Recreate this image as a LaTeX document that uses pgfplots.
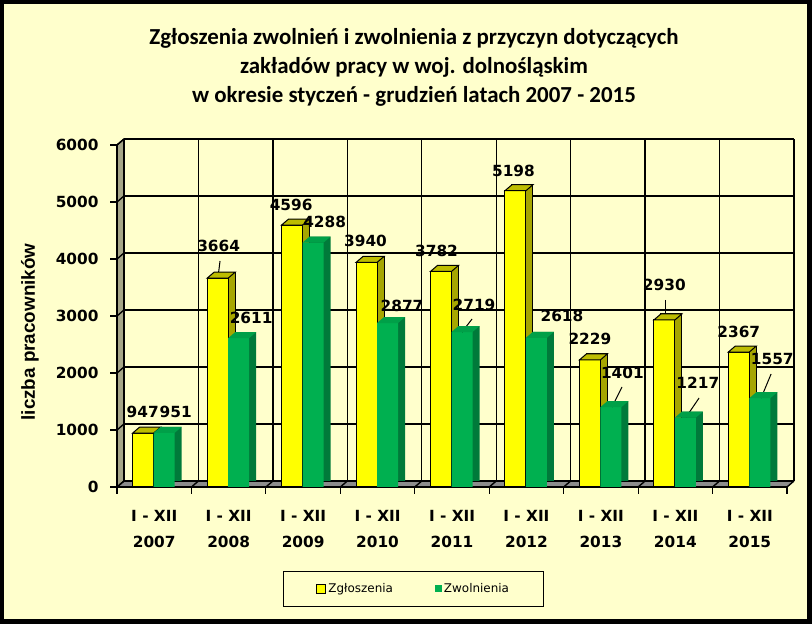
\documentclass[border=0pt]{standalone}
\usepackage{fontspec}
\setmainfont{DejaVu Sans}
\newfontfamily\titlefont{Carlito}
\newfontfamily\arialfont{Liberation Sans}
\usepackage{pgfplots}
\usepackage{pgfplotstable}
\pgfplotsset{compat=1.18}

\definecolor{bgc}{HTML}{FFFFCC}
\definecolor{wallc}{HTML}{A6A688}
\definecolor{floorc}{HTML}{8C8C8C}
\definecolor{zgf}{HTML}{FFFF00}
\definecolor{zgs}{HTML}{A6A600}
\definecolor{zgt}{HTML}{BDBD00}
\definecolor{zwf}{HTML}{00B050}
\definecolor{zws}{HTML}{007A3A}
\definecolor{zwt}{HTML}{00A048}

% gorne sciany slupkow (wzgledem srodka kategorii)
\pgfdeclareplotmark{zgtop}{%
  \pgfpathmoveto{\pgfpoint{-21.5bp}{0bp}}%
  \pgfpathlineto{\pgfpoint{-0.5bp}{0bp}}%
  \pgfpathlineto{\pgfpoint{6.5bp}{6bp}}%
  \pgfpathlineto{\pgfpoint{-14.5bp}{6bp}}%
  \pgfpathclose
  \pgfusepathqfillstroke}
\pgfdeclareplotmark{zwtop}{%
  \pgfpathmoveto{\pgfpoint{-0.5bp}{0bp}}%
  \pgfpathlineto{\pgfpoint{20.5bp}{0bp}}%
  \pgfpathlineto{\pgfpoint{27.5bp}{6bp}}%
  \pgfpathlineto{\pgfpoint{6.5bp}{6bp}}%
  \pgfpathclose
  \pgfusepathqfill}

% x = kategoria, zg = zgloszenia, zw = zwolnienia, dx/dy = polozenie etykiet (bp)
\pgfplotstableread{
x zg   zw   zgdx  zgdy zwdx zwdy
0 947  951  -11.5 21   21.5 21
1 3664 2611 -10   32   22.5 20
2 4596 4288 -12   20   21.5 21
3 3940 2877 -12   21   24.5 17
4 3782 2719 -15.5 21   22   27
5 5198 2618 -13   20   35.5 22
6 2229 1401 -11   21   21.5 34
7 2930 1217 -11   35   22.5 35
8 2367 1557 -11   20   22.5 39
}\dane

\newcommand{\labfont}{\bfseries\fontsize{15.4}{18}\selectfont}

\begin{document}
\begin{tikzpicture}[x=1bp,y=1bp]
\useasboundingbox (0,0) rectangle (812,624);
\fill[black] (0,0) rectangle (812,624);
\fill[bgc] (4,5) rectangle (807,620);

% tytul
\node[anchor=base, font=\titlefont\bfseries\fontsize{23}{29}\selectfont] at (414,579.7) {Zgłoszenia zwolnień i zwolnienia z przyczyn dotyczących};
\node[anchor=base, font=\titlefont\bfseries\fontsize{23}{29}\selectfont] at (414,550.7) {zakładów pracy w woj. dolnośląskim};
\node[anchor=base, font=\titlefont\bfseries\fontsize{23}{29}\selectfont] at (414,521.7) {w okresie styczeń - grudzień latach 2007 - 2015};

\node[rotate=90, font=\arialfont\bfseries\fontsize{18.9}{20}\selectfont] at (30,292) {liczba pracowników};

% sciany wykresu 3D
\fill[wallc] (117,137) -- (117,479) -- (124,485) -- (124,143) -- cycle;
\fill[floorc] (117,137) -- (787,137) -- (794,143) -- (124,143) -- cycle;
\foreach \k in {0,...,6} {
  \draw[line width=1.4] (124,143+57*\k) -- (794,143+57*\k);
  \draw[line width=1.4] (117,137+57*\k) -- (124,143+57*\k);
}
\foreach \k in {0,...,9} {
  \draw[line width=1.4] (124+74.444*\k,143) -- (124+74.444*\k,485);
  \draw[line width=1.4] (117+74.444*\k,137) -- (124+74.444*\k,143);
  \draw[line width=1.2] (117+74.444*\k,137) -- (117+74.444*\k,130);
}
\draw[line width=1.4] (117,479) -- (124,485);

\begin{axis}[
  at={(117bp,137bp)}, anchor=south west,
  width=670bp, height=342bp, scale only axis,
  xmin=-0.5, xmax=8.5, ymin=0, ymax=6000,
  clip=false,
  axis x line*=bottom, axis y line*=left,
  axis line style={-, line width=1.5bp},
  xtick={0,...,8},
  xticklabels={{I - XII\\2007},{I - XII\\2008},{I - XII\\2009},{I - XII\\2010},{I - XII\\2011},{I - XII\\2012},{I - XII\\2013},{I - XII\\2014},{I - XII\\2015}},
  xtick style={draw=none},
  ytick={0,1000,...,6000},
  ytick style={line width=1.2bp, black},
  tick align=outside, major tick length=7bp,
  x tick label style={align=center, font=\bfseries\fontsize{15.4}{26}\selectfont, yshift=-12.5bp},
  y tick label style={font=\labfont, xshift=-8bp},
  /pgf/number format/1000 sep={},
  /pgf/number format/assume math mode=true,
  legend columns=2,
  legend style={at={(0.4425,-0.298)}, anchor=center, draw=black, line width=1bp, fill=bgc,
    font=\fontsize{12}{14}\selectfont, inner xsep=32.5bp, inner ysep=10bp,
    /tikz/every even column/.append style={column sep=40bp}},
]
% Zgloszenia: bok, gora, przod
\addplot[ybar, bar width=21bp, bar shift=-4bp, yshift=6bp, fill=zgs, draw=black, line width=1bp, forget plot]
  table[x=x,y=zg]{\dane};
\addplot[only marks, mark=zgtop, mark options={fill=zgt, draw=black, line width=1bp}, forget plot]
  table[x=x,y=zg]{\dane};
\addplot[ybar, bar width=21bp, bar shift=-11bp, fill=zgf, draw=black, line width=1bp,
  visualization depends on={\thisrow{zgdx}\as\ydx},
  visualization depends on={\thisrow{zgdy}\as\ydy},
  nodes near coords,
  every node near coord/.append style={anchor=center, xshift=\ydx bp, yshift=\ydy bp, font=\labfont, text=black},
  legend image code/.code={\draw[fill=zgf, draw=black, line width=1.5bp] (0bp,-4.5bp) rectangle (9bp,4.5bp);}]
  table[x=x,y=zg]{\dane};
\addlegendentry{Zgłoszenia}
% Zwolnienia: bok, gora, przod
\addplot[ybar, bar width=21bp, bar shift=17bp, yshift=6bp, fill=zws, draw=none, forget plot]
  table[x=x,y=zw]{\dane};
\addplot[only marks, mark=zwtop, mark options={fill=zwt, draw=none}, forget plot]
  table[x=x,y=zw]{\dane};
\addplot[ybar, bar width=21bp, bar shift=10bp, fill=zwf, draw=none,
  visualization depends on={\thisrow{zwdx}\as\wdx},
  visualization depends on={\thisrow{zwdy}\as\wdy},
  nodes near coords,
  every node near coord/.append style={anchor=center, xshift=\wdx bp, yshift=\wdy bp, font=\labfont, text=black},
  legend image code/.code={\fill[zwf] (1bp,-3.5bp) rectangle (8bp,3.5bp);}]
  table[x=x,y=zw]{\dane};
\addlegendentry{Zwolnienia}
% linie odniesienia etykiet
\draw[line width=1bp] (axis cs:0.884,3965) -- (axis cs:0.857,3684);
\draw[line width=1bp] (axis cs:4.269,2947) -- (axis cs:4.135,2719);
\draw[line width=1bp] (axis cs:6.284,1754) -- (axis cs:6.150,1404);
\draw[line width=1bp] (axis cs:6.862,3281) -- (axis cs:6.862,3000);
\draw[line width=1bp] (axis cs:7.319,1561) -- (axis cs:7.145,1228);
\draw[line width=1bp] (axis cs:8.286,1982) -- (axis cs:8.152,1561);
\end{axis}
\end{tikzpicture}
\end{document}
